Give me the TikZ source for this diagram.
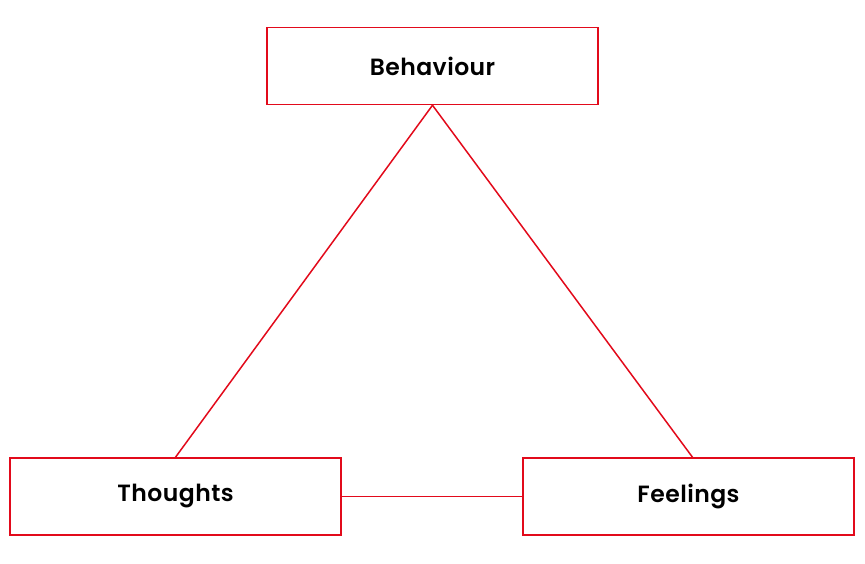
\documentclass[tikz,border=0pt]{standalone}
\usepackage{fontspec}
\setmainfont{Poppins}
\newfontfamily\labfont{Poppins SemiBold}[LetterSpace=2]
\definecolor{boxred}{HTML}{E20A1B}
\begin{document}
\begin{tikzpicture}[x=1pt,y=-1pt,
  box/.style={draw=boxred,line width=1.5pt,minimum width=331pt,minimum height=77pt,inner sep=0pt,font=\labfont\fontsize{23.5}{26}\selectfont,text=black},
  link/.style={draw=boxred,line width=1.5pt}]
\useasboundingbox (0,0) rectangle (865,563);
\node[box] (beh) at (432.5,66) {Behaviour};
\node[box] (tho) at (175.5,496.5) {Thoughts};
\node[box] (fee) at (688.5,496.5) {Feelings};
\draw[link] (beh.south) -- (tho.north);
\draw[link] (beh.south) -- ([xshift=4pt]fee.north);
\draw[link] (tho.east) -- (fee.west);
\end{tikzpicture}
\end{document}
